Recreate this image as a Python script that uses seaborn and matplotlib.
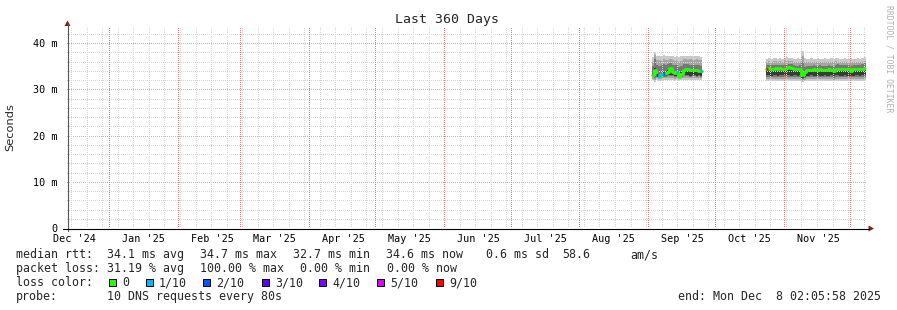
import numpy as np
import pandas as pd
import matplotlib
matplotlib.use("Agg")
import matplotlib.pyplot as plt
import matplotlib.dates as mdates
from matplotlib.patches import Rectangle, Polygon
from matplotlib.lines import Line2D
import seaborn as sns

# ---------------- data ----------------
title = "Last 360 Days"
graph_start = "2024-12-13 02:05:58"
graph_end = "2025-12-08 02:05:58"
month_starts = ["2024-12-01", "2025-01-01", "2025-02-01", "2025-03-01", "2025-04-01",
                "2025-05-01", "2025-06-01", "2025-07-01", "2025-08-01", "2025-09-01",
                "2025-10-01", "2025-11-01", "2025-12-01"]
month_labels = ["Dec '24", "Jan '25", "Feb '25", "Mar '25", "Apr '25", "May '25",
                "Jun '25", "Jul '25", "Aug '25", "Sep '25", "Oct '25", "Nov '25"]
y_ticks = [0, 10, 20, 30, 40]
y_tick_labels = ["0", "10 m", "20 m", "30 m", "40 m"]

loss_labels = ["0", "1/10", "2/10", "3/10", "4/10", "5/10", "9/10"]
loss_colors = ["#26ff00", "#00b8ff", "#0059ff", "#5e00ff", "#7e00ff", "#dd00ff", "#ff0000"]
smoke_colors = ["#c8c8c8", "#a4a4a4", "#777777", "#3a3a3a"]

# segment 1 : daily steps (ms)
seg1_start = "2025-09-02 12:00"
seg1_end = "2025-09-25 00:00"
seg1_median = [33.0, 34.2, 33.0, 32.9, 33.3, 33.4, 33.6,
               33.8, 34.6, 33.7, 33.6, 33.7, 32.7, 33.4,
               34.2, 34.3, 34.3, 34.2, 34.2, 34.1, 34.1, 34.0, 34.0]
seg1_loss = [0, 0, 3, 1, 1, 2, 0,
             0, 0, 0, 0, 1, 0, 0,
             0, 0, 0, 0, 0, 0, 0, 0, 1]
s1_lo1 = [32.0, 31.6, 32.0, 31.9, 32.0, 32.0, 32.1,
          32.0, 32.1, 32.0, 31.9, 32.0, 31.8, 32.0,
          32.0, 32.1, 32.0, 32.0, 32.1, 32.0, 32.0, 32.1, 32.0]
s1_hi1 = [37.0, 38.0, 37.3, 37.3, 37.2, 37.4, 37.3,
          37.3, 37.2, 37.3, 37.1, 37.2, 37.0, 37.2,
          37.3, 37.3, 37.2, 37.3, 37.2, 37.2, 37.3, 37.2, 37.1]
s1_lo2 = [32.3, 32.0, 32.4, 32.3, 32.3, 32.4, 32.4,
          32.4, 32.5, 32.4, 32.3, 32.4, 32.2, 32.4,
          32.5, 32.5, 32.4, 32.4, 32.5, 32.4, 32.4, 32.5, 32.4]
s1_hi2 = [36.0, 37.5, 36.4, 36.3, 36.2, 36.5, 36.4,
          36.4, 36.6, 36.4, 36.2, 36.3, 36.0, 36.2,
          36.5, 36.5, 36.4, 36.5, 36.4, 36.4, 36.5, 36.4, 36.3]
s1_lo3 = [32.6, 32.4, 32.7, 32.6, 32.6, 32.7, 32.7,
          32.8, 32.8, 32.8, 32.7, 32.7, 32.5, 32.7,
          32.8, 32.8, 32.8, 32.7, 32.8, 32.8, 32.7, 32.8, 32.7]
s1_hi3 = [35.0, 36.5, 35.3, 35.1, 35.2, 35.4, 35.3,
          35.5, 35.8, 35.3, 35.2, 35.2, 34.8, 35.1,
          35.4, 35.4, 35.4, 35.3, 35.3, 35.3, 35.2, 35.2, 35.1]
s1_lo4 = [32.8, 32.7, 32.9, 32.8, 32.8, 32.9, 32.9,
          33.0, 33.0, 33.0, 32.9, 32.9, 32.6, 32.9,
          33.0, 33.0, 33.0, 32.9, 33.0, 33.0, 32.9, 33.0, 32.9]
s1_hi4 = [33.4, 34.6, 33.3, 33.2, 33.6, 33.7, 33.9,
          34.1, 34.8, 34.0, 33.9, 34.0, 33.2, 33.7,
          34.3, 34.3, 34.3, 34.2, 34.2, 34.1, 34.1, 34.0, 34.0]

# segment 2 : daily steps (ms)
seg2_start = "2025-10-24 00:00"
seg2_end = graph_end
seg2_median = [34.4, 34.6, 34.5, 34.5, 34.6, 34.5, 34.6, 34.5,
               34.5, 34.6, 34.8, 34.7, 34.5, 34.4, 34.4, 34.5,
               33.1, 33.8, 34.1, 34.2, 34.2, 34.3, 34.2, 34.2, 34.3, 34.2, 34.2, 34.2,
               34.3, 34.2, 33.9, 34.4, 34.5, 34.3, 34.3, 34.4, 34.3, 34.4,
               34.0, 34.3, 34.4, 34.4, 34.4, 34.5, 34.7]
seg2_loss = [6, 0, 0, 0, 0, 0, 0, 0,
             0, 0, 0, 0, 0, 0, 0, 0,
             0, 0, 0, 0, 0, 0, 0, 0, 0, 0, 0, 0,
             0, 0, 0, 0, 0, 0, 0, 0, 0, 0,
             0, 0, 0, 0, 0, 0, 0]
s2_lo1 = [31.9, 31.8, 31.8, 31.9, 31.8, 31.8, 31.9, 31.8,
          31.8, 31.9, 31.8, 31.8, 31.9, 31.8, 31.8, 31.8,
          31.5, 31.7, 31.8, 31.8, 31.9, 31.8, 31.8, 31.8, 31.9, 31.8, 31.8, 31.8,
          31.8, 31.9, 31.7, 31.8, 31.8, 31.9, 31.8, 31.8, 31.8, 31.9,
          31.8, 31.8, 31.9, 31.8, 31.8, 31.8, 31.9]
s2_hi1 = [36.6, 36.7, 36.6, 36.8, 36.7, 36.6, 36.7, 36.6,
          36.8, 36.9, 36.8, 36.7, 36.6, 36.6, 36.7, 36.6,
          38.3, 36.7, 36.6, 36.6, 36.7, 36.6, 36.6, 36.7, 36.6, 36.6, 36.7, 36.6,
          36.6, 36.7, 36.6, 36.8, 36.7, 36.6, 36.6, 36.7, 36.6, 36.6,
          36.7, 36.6, 36.6, 36.7, 36.6, 36.7, 36.9]
s2_lo2 = [32.3, 32.3, 32.2, 32.3, 32.3, 32.2, 32.3, 32.3,
          32.3, 32.3, 32.3, 32.2, 32.3, 32.3, 32.2, 32.3,
          31.9, 32.1, 32.2, 32.3, 32.3, 32.2, 32.3, 32.3, 32.3, 32.2, 32.3, 32.3,
          32.3, 32.3, 32.1, 32.3, 32.3, 32.2, 32.3, 32.3, 32.3, 32.2,
          32.2, 32.3, 32.3, 32.3, 32.2, 32.3, 32.3]
s2_hi2 = [36.0, 36.1, 36.0, 36.1, 36.1, 36.0, 36.1, 36.0,
          36.1, 36.2, 36.2, 36.1, 36.0, 36.0, 36.0, 36.0,
          37.2, 36.0, 35.9, 35.9, 36.0, 35.9, 35.9, 36.0, 35.9, 35.9, 36.0, 35.9,
          35.9, 36.0, 35.9, 36.1, 36.0, 35.9, 35.9, 36.0, 35.9, 35.9,
          35.9, 35.9, 36.0, 36.0, 35.9, 36.0, 36.2]
s2_lo3 = [32.7, 32.7, 32.6, 32.7, 32.7, 32.6, 32.7, 32.7,
          32.7, 32.7, 32.7, 32.6, 32.7, 32.7, 32.6, 32.7,
          32.3, 32.5, 32.6, 32.6, 32.7, 32.6, 32.6, 32.7, 32.6, 32.6, 32.7, 32.6,
          32.6, 32.7, 32.5, 32.7, 32.7, 32.6, 32.6, 32.7, 32.6, 32.6,
          32.6, 32.6, 32.7, 32.7, 32.6, 32.7, 32.7]
s2_hi3 = [35.2, 35.3, 35.2, 35.2, 35.3, 35.2, 35.3, 35.2,
          35.2, 35.3, 35.5, 35.4, 35.2, 35.1, 35.1, 35.2,
          36.0, 34.8, 35.0, 35.1, 35.1, 35.2, 35.1, 35.1, 35.2, 35.1, 35.1, 35.1,
          35.2, 35.1, 34.9, 35.3, 35.4, 35.2, 35.2, 35.3, 35.2, 35.3,
          35.0, 35.2, 35.3, 35.3, 35.3, 35.4, 35.6]
s2_lo4 = [33.0, 33.0, 32.9, 33.0, 33.0, 32.9, 33.0, 33.0,
          33.0, 33.0, 33.0, 32.9, 33.0, 33.0, 32.9, 33.0,
          32.5, 32.7, 32.9, 32.9, 33.0, 32.9, 32.9, 33.0, 32.9, 32.9, 33.0, 32.9,
          32.9, 33.0, 32.8, 33.0, 33.0, 32.9, 32.9, 33.0, 32.9, 32.9,
          32.8, 32.9, 33.0, 33.0, 32.9, 33.0, 33.0]
s2_hi4 = [34.3, 34.5, 34.4, 34.4, 34.5, 34.4, 34.5, 34.4,
          34.4, 34.5, 34.7, 34.6, 34.4, 34.3, 34.3, 34.4,
          33.0, 33.7, 34.0, 34.1, 34.1, 34.2, 34.1, 34.1, 34.2, 34.1, 34.1, 34.1,
          34.2, 34.1, 33.8, 34.3, 34.4, 34.2, 34.2, 34.3, 34.2, 34.3,
          33.9, 34.2, 34.3, 34.3, 34.3, 34.4, 34.6]

legend_line1 = [("median rtt:", 16), ("34.1 ms avg", 107), ("34.7 ms max", 200),
                ("32.7 ms min", 293), ("34.6 ms now", 386), ("0.6 ms sd", 486),
                ("58.6", 562), ("am/s", 630)]
legend_line2 = [("packet loss:", 16), ("31.19 % avg", 107), ("100.00 % max", 200),
                ("0.00 % min", 300), ("0.00 % now", 387)]
loss_box_x = [109, 146, 203, 262, 319, 377, 436]
probe_text = "10 DNS requests every 80s"
end_text = "end: Mon Dec  8 02:05:58 2025"
watermark = "RRDTOOL / TOBI OETIKER"

# ---------------- figure ----------------
sns.set_theme(style="white")
plt.rcParams["font.family"] = ["DejaVu Sans Mono", "DejaVu Sans"]
W, H = 897, 310
fig = plt.figure(figsize=(W / 100, H / 100), dpi=100)
fig.patch.set_facecolor("white")
L, R, T, B = 67, 866, 26, 228
ax = fig.add_axes([L / W, (H - B) / H, (R - L) / W, (B - T) / H])
ax.set_facecolor("white")

t0 = mdates.date2num(pd.Timestamp(graph_start))
t1 = mdates.date2num(pd.Timestamp(graph_end))
ax.set_xlim(t0, t1)
ax.set_ylim(0, 43.7)


def edges_for(start, end, n):
    e = mdates.date2num(pd.date_range(start, periods=n, freq="D"))
    return np.append(e, mdates.date2num(pd.Timestamp(end)))


segments = [
    (seg1_start, seg1_end, seg1_median, seg1_loss,
     [(s1_lo1, s1_hi1), (s1_lo2, s1_hi2), (s1_lo3, s1_hi3), (s1_lo4, s1_hi4)]),
    (seg2_start, seg2_end, seg2_median, seg2_loss,
     [(s2_lo1, s2_hi1), (s2_lo2, s2_hi2), (s2_lo3, s2_hi3), (s2_lo4, s2_hi4)]),
]

for s, e, med, loss, bands in segments:
    edges = edges_for(s, e, len(med))
    for (lo, hi), c in zip(bands, smoke_colors):
        ax.stairs(hi, edges, baseline=lo, fill=True, color=c, lw=0, zorder=2)

# grid (crisp 1-px dotted lines)
gray_grid = "#d4d4d4"
red_grid_v = "#ef7373"
red_grid_h = "#f3a0a0"
dots = (0, (1, 2))
for yv in np.arange(2, 43.7, 2):
    col = red_grid_h if yv % 10 == 0 else gray_grid
    ax.axhline(yv, color=col, lw=0.72, ls=dots, zorder=3, antialiased=False)
month_nums = [mdates.date2num(pd.Timestamp(m)) for m in month_starts]
week_nums = [mdates.date2num(d) for d in pd.date_range(graph_start, graph_end, freq="W-SUN").normalize()]
for wv in week_nums:
    if min(abs(wv - m) for m in month_nums) > 0.6:
        ax.axvline(wv, color=gray_grid, lw=0.72, ls=dots, zorder=3, antialiased=False)
for mv in month_nums:
    if t0 < mv < t1:
        ax.axvline(mv, color=red_grid_v, lw=0.72, ls=dots, zorder=3.5, antialiased=False)

# median lines coloured by loss
for s, e, med, loss, bands in segments:
    edges = edges_for(s, e, len(med))
    xs = np.append(edges[:-1], edges[-1])
    ys = np.append(med, med[-1])
    sns.lineplot(x=xs, y=ys, drawstyle="steps-post", color=loss_colors[0], lw=2.0,
                 ax=ax, zorder=5, estimator=None, sort=False)
    for i, (m, l) in enumerate(zip(med, loss)):
        if l != 0:
            ax.plot([edges[i], edges[i + 1]], [m, m], color=loss_colors[l], lw=2.0,
                    solid_capstyle="butt", zorder=6)

# ticks
lab_pos = [mdates.date2num(pd.Timestamp(m) + pd.Timedelta(days=15.5)) for m in month_starts[:-1]]
ax.set_xticks(lab_pos, month_labels)
ax.set_yticks(y_ticks, y_tick_labels)
ax.tick_params(axis="x", length=0, pad=4.5, labelsize=7.3, colors="black")
ax.tick_params(axis="y", length=2, width=0.7, color="#888888", pad=4.5, labelsize=7.3,
               labelcolor="black")
for sp in ax.spines.values():
    sp.set_visible(False)
ax.grid(False)
ax.set_xlabel("")
ax.set_ylabel("")


def fx(px):
    return px / W


def fy(py):
    return 1 - py / H


fig.add_artist(Line2D([fx(67.5), fx(67.5)], [fy(231), fy(24)], color="#555555", lw=0.8))
fig.add_artist(Line2D([fx(63), fx(869)], [fy(228.5), fy(228.5)], color="black", lw=0.8))
arrow_c = "#7f1f1f"
fig.add_artist(Polygon([[fx(67.5), fy(20.5)], [fx(64.5), fy(26)], [fx(70.5), fy(26)]],
                       closed=True, color=arrow_c, lw=0))
fig.add_artist(Polygon([[fx(874), fy(228.5)], [fx(868.5), fy(225.5)], [fx(868.5), fy(231.5)]],
                       closed=True, color=arrow_c, lw=0))

# texts
mono = "DejaVu Sans Mono"
fig.text(fx(447), fy(19.5), title, ha="center", va="center", family=mono, fontsize=9.5)
fig.text(fx(10), fy(127), "Seconds", rotation=90, ha="center", va="center",
         family="DejaVu Sans", fontsize=8.2)
fig.text(fx(889), fy(5), watermark, rotation=270, ha="center", va="top", family=mono,
         fontsize=5.9, color="#b0b0b0")

fs = 8.4
for txt, x in legend_line1:
    fig.text(fx(x), fy(258), txt, ha="left", va="baseline", family=mono, fontsize=fs)
for txt, x in legend_line2:
    fig.text(fx(x), fy(272), txt, ha="left", va="baseline", family=mono, fontsize=fs)
fig.text(fx(16), fy(286.3), "loss color:", ha="left", va="baseline", family=mono, fontsize=fs)
for bx, lab, col in zip(loss_box_x, loss_labels, loss_colors):
    fig.add_artist(Rectangle((fx(bx), fy(285.5)), 7 / W, 7 / H, facecolor=col,
                             edgecolor="black", lw=0.7))
    fig.text(fx(bx + 13), fy(286.3), lab, ha="left", va="baseline", family=mono, fontsize=fs)
fig.text(fx(16), fy(300.3), "probe:", ha="left", va="baseline", family=mono, fontsize=fs)
fig.text(fx(107), fy(300.3), probe_text, ha="left", va="baseline", family=mono, fontsize=fs)
fig.text(fx(881), fy(300.3), end_text, ha="right", va="baseline", family=mono, fontsize=fs)

fig.savefig("out.png", dpi=100, facecolor="white")
